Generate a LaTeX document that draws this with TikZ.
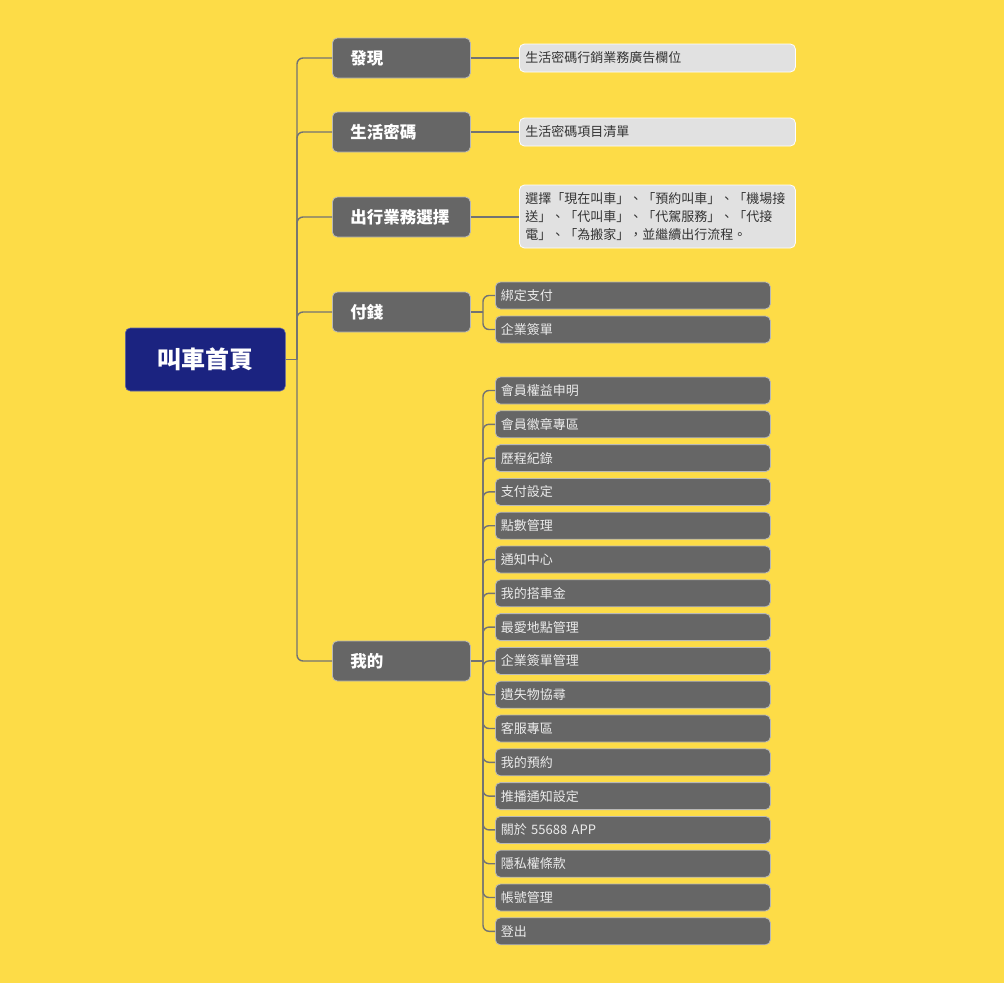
\documentclass[tikz,border=0pt]{standalone}
\usepackage{fontspec}
\setmainfont{Noto Sans CJK TC}
\begin{document}
\definecolor{bgY}{HTML}{FDDC47}
\definecolor{rootC}{HTML}{1B2380}
\definecolor{nodeG}{HTML}{666666}
\definecolor{lightG}{HTML}{E1E1E1}
\definecolor{lineG}{HTML}{737373}
\definecolor{edgeG}{HTML}{B8B8B8}
\begin{tikzpicture}[x=1pt,y=-1pt,
  rootbox/.style={fill=rootC, draw=rootC!70!white, line width=0.6pt, rounded corners=5pt, text=white, font=\fontsize{24}{28}\selectfont\bfseries, minimum width=160pt, minimum height=63pt, inner sep=0pt, anchor=west},
  topic/.style={fill=nodeG, draw=edgeG, line width=0.8pt, rounded corners=5pt, text=white, font=\fontsize{16.5}{20}\selectfont\bfseries, text width=102pt, align=left, inner xsep=18pt, inner ysep=0pt, minimum height=40pt, anchor=west},
  note/.style={fill=lightG, draw=white, line width=0.8pt, rounded corners=5pt, text=black!80, font=\fontsize{13}{18}\selectfont, text width=264pt, align=left, inner xsep=6pt, inner ysep=0pt, minimum height=28pt, anchor=west},
  sub/.style={fill=nodeG, draw=edgeG, line width=0.8pt, rounded corners=5pt, text=white!92!black, font=\fontsize{13}{16}\selectfont, text width=264pt, align=left, inner xsep=5.5pt, inner ysep=0pt, minimum height=27pt, anchor=west},
  conn/.style={draw=lineG, line width=1.4pt, rounded corners=6pt}
]
\fill[bgY] (0,0) rectangle (1004,983);

% root
\node[rootbox] (root) at (125,359.5) {叫車首頁};

% level 1
\node[topic] (t1) at (332,58) {發現};
\node[topic] (t2) at (332,132) {生活密碼};
\node[topic] (t3) at (332,217) {出行業務選擇};
\node[topic] (t4) at (332,312) {付錢};
\node[topic] (t5) at (332,661) {我的};

% notes
\node[note] (g1) at (519,58) {生活密碼行銷業務廣告欄位};
\node[note] (g2) at (519,132) {生活密碼項目清單};
\node[note, minimum height=63pt] (g3) at (519,216.5) {選擇「現在叫車」、「預約叫車」、「機場接\\送」、「代叫車」、「代駕服務」、「代接\\電」、「為搬家」，並繼續出行流程。};

% pay children
\node[sub] (p1) at (495,295.5) {綁定支付};
\node[sub] (p2) at (495,329.5) {企業簽單};

% mine children
\foreach \t [count=\i from 0] in {會員權益申明,會員徽章專區,歷程紀錄,支付設定,點數管理,通知中心,我的搭車金,最愛地點管理,企業簽單管理,遺失物協尋,客服專區,我的預約,推播通知設定,關於 55688 APP,隱私權條款,帳號管理,登出}{
  \node[sub] (m\i) at (495,{390.5+33.8*\i}) {\t};
}

% connectors
\coordinate (j0) at (297,359.5);
\draw[conn] (root.east) -- (j0);
\foreach \n in {t1,t2,t3,t4,t5}{
  \draw[conn] (j0) |- (\n.west);
}
\draw[conn] (t1.east) -- (g1.west);
\draw[conn] (t2.east) -- (g2.west);
\draw[conn] (t3.east) -- (g3.west |- t3.east);

\coordinate (j1) at (483,312);
\draw[conn] (t4.east) -- (j1);
\foreach \n in {p1,p2}{
  \draw[conn] (j1) |- (\n.west);
}
\coordinate (j2) at (483,661);
\draw[conn] (t5.east) -- (j2);
\foreach \i in {0,...,16}{
  \draw[conn] (j2) |- (m\i.west);
}
\end{tikzpicture}
\end{document}
